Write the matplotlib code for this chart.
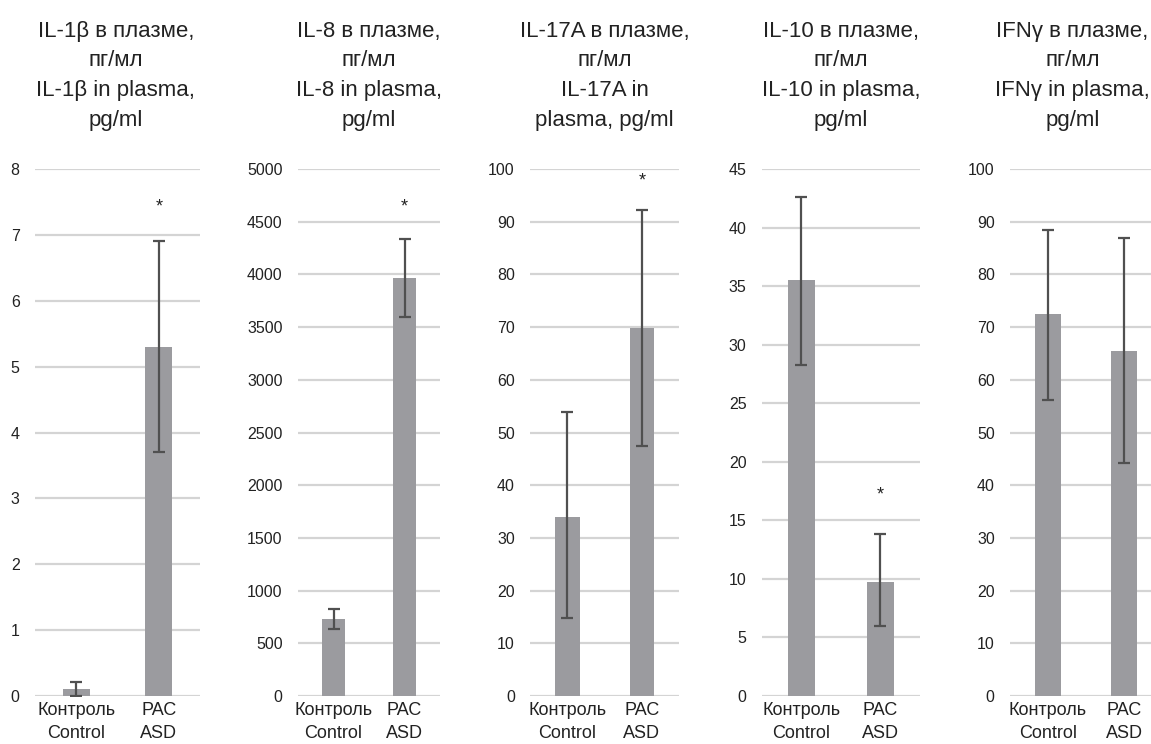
import matplotlib.pyplot as plt
import numpy as np

plt.rcParams['font.family'] = ['Liberation Sans', 'DejaVu Sans']

# Данные
titles = [
    "IL-1β в плазме,\nпг/мл\nIL-1β in plasma,\npg/ml",
    "IL-8 в плазме,\nпг/мл\nIL-8 in plasma,\npg/ml",
    "IL-17A в плазме,\nпг/мл\nIL-17A in\nplasma, pg/ml",
    "IL-10 в плазме,\nпг/мл\nIL-10 in plasma,\npg/ml",
    "IFNγ в плазме,\nпг/мл\nIFNγ in plasma,\npg/ml",
]
groups = ["Контроль\nControl", "РАС\nASD"]

control_mean = [0.1, 730, 34.0, 35.5, 72.4]
control_low = [0.0, 636, 14.8, 28.3, 56.2]
control_high = [0.22, 825, 53.8, 42.6, 88.5]

asd_mean = [5.3, 3970, 69.8, 9.75, 65.5]
asd_low = [3.7, 3598, 47.4, 6.0, 44.2]
asd_high = [6.9, 4340, 92.3, 13.8, 87.0]

star_y = [7.42, 4640, 97.8, 17.2, None]

y_max = [8, 5000, 100, 45, 100]
y_step = [1, 500, 10, 5, 10]

# положение панелей (доли фигуры)
lefts = [0.0304, 0.2589, 0.4605, 0.6620, 0.8775]
widths = [0.1434, 0.1234, 0.1295, 0.1373, 0.1321]
title_x = [0.49, 0.5, 0.5, 0.5, 0.41]
bottom = 0.0645
height = 0.7083

bar_col = '#9b9b9f'
err_col = '#505050'
grid_col = '#d4d4d4'

fig = plt.figure(figsize=(11.51, 7.44), dpi=100)

for i in range(5):
    ax = fig.add_axes([lefts[i], bottom, widths[i], height])
    x = np.arange(2)
    means = [control_mean[i], asd_mean[i]]
    lo = [means[0] - control_low[i], means[1] - asd_low[i]]
    hi = [control_high[i] - means[0], asd_high[i] - means[1]]
    ax.bar(x, means, width=0.33, color=bar_col, zorder=2)
    ax.errorbar(x, means, yerr=[lo, hi], fmt='none', ecolor=err_col,
                elinewidth=1.6, capsize=4.6, capthick=1.6, zorder=3)
    if star_y[i] is not None:
        ax.text(1, star_y[i], '*', ha='center', va='center', fontsize=13, color='#222222')

    ax.set_xlim(-0.5, 1.5)
    ax.set_ylim(0, y_max[i])
    ax.set_yticks(np.arange(0, y_max[i] + y_step[i] / 2, y_step[i]))
    ax.set_xticks(x)
    ax.set_xticklabels(groups, fontsize=13, linespacing=1.5)
    ax.tick_params(axis='both', length=0, colors='#222222')
    ax.tick_params(axis='y', labelsize=11.5, pad=11)
    ax.tick_params(axis='x', pad=4)
    ax.yaxis.grid(True, color=grid_col, linewidth=1.6)
    ax.set_axisbelow(True)
    for s in ax.spines.values():
        s.set_visible(False)
    ax.set_title(titles[i], fontsize=16, linespacing=1.55, pad=31,
                 color='#222222', x=title_x[i])

fig.savefig('out.png', dpi=100)
